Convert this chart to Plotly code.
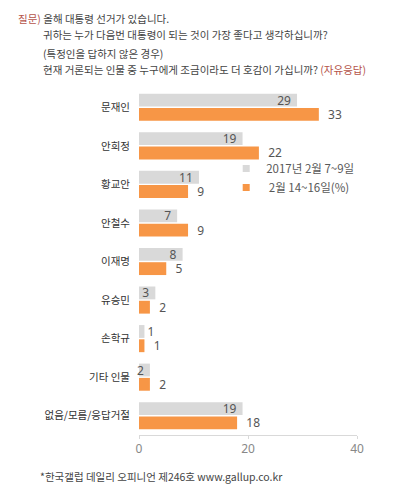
import plotly.graph_objects as go

categories = ["문재인", "안희정", "황교안", "안철수", "이재명", "유승민", "손학규", "기타 인물", "없음/모름/응답거절"]
series_names = ["2017년 2월 7~9일", " 2월 14~16일(%)"]
values_feb7 = [29, 19, 11, 7, 8, 3, 1, 2, 19]
values_feb14 = [33, 22, 9, 9, 5, 2, 1, 2, 18]
x_ticks = [0, 20, 40]

FONT = "Noto Sans CJK KR"
NUMFONT = "Noto Sans"
TXT = "#555555"
GRAY = "#d9d9d9"
ORANGE = "#f79646"

fig = go.Figure()
fig.add_trace(go.Bar(
    y=categories, x=values_feb7, name=series_names[0], orientation="h",
    marker=dict(color=GRAY, line=dict(width=0)), showlegend=False,
    text=[f"{v} " for v in values_feb7], textposition="auto", textangle=0,
    insidetextanchor="end", constraintext="none",
    textfont=dict(family=NUMFONT, size=12, color=TXT),
    insidetextfont=dict(family=NUMFONT, size=12, color=TXT),
    outsidetextfont=dict(family=NUMFONT, size=12, color=TXT),
    cliponaxis=False,
))
fig.add_trace(go.Bar(
    y=categories, x=values_feb14, name=series_names[1], orientation="h",
    marker=dict(color=ORANGE, line=dict(width=0)), showlegend=False,
    text=[f"  {v}" for v in values_feb14], textposition="outside", textangle=0,
    textfont=dict(family=NUMFONT, size=12, color=TXT),
    constraintext="none",
    cliponaxis=False,
))
# legend entries with small square swatches
for name, col in zip(series_names, [GRAY, ORANGE]):
    fig.add_trace(go.Scatter(x=[None], y=[None], mode="markers", name=name,
                             marker=dict(symbol="square", size=7, color=col),
                             showlegend=True))

fig.update_layout(
    width=398, height=489,
    margin=dict(l=131, r=49, t=80, b=62),
    paper_bgcolor="white", plot_bgcolor="white",
    barmode="group", bargap=0.26, bargroupgap=0.1,
    font=dict(family=FONT, size=11, color="#444444"),
    showlegend=True,
    legend=dict(x=0.40, y=0.81, xanchor="left", yanchor="top",
                bgcolor="rgba(0,0,0,0)", font=dict(family=FONT, size=11.5, color="#595959"),
                itemwidth=30, tracegroupgap=0),
    xaxis=dict(range=[0, 40], tickvals=x_ticks, showgrid=False, zeroline=False,
               showline=True, linecolor="#d9d9d9", linewidth=1,
               ticks="outside", ticklen=3, tickcolor="#d9d9d9", automargin=False,
               tickfont=dict(family=NUMFONT, size=12, color="#888888")),
    yaxis=dict(autorange="reversed", showgrid=False, showline=False,
               ticks="", ticklabelstandoff=8, automargin=False,
               tickfont=dict(family=FONT, size=10.5, color="#333333")),
)

lines = [
    ("<span style='color:#b5544a'>질문)</span> 올해 대통령 선거가 있습니다.", 8, 10),
    ("귀하는 누가 다음번 대통령이 되는 것이 가장 좋다고 생각하십니까?", 33, 27),
    ("(특정인을 답하지 않은 경우)", 33, 45),
    ("현재 거론되는 인물 중 누구에게 조금이라도 더 호감이 가십니까? <span style='color:#b5544a'>(자유응답)</span>", 33, 62),
]
for t, x, y in lines:
    fig.add_annotation(text=t, xref="paper", yref="paper",
                       x=(x - 131) / 218, y=1 + (80 - y) / 347,
                       xanchor="left", yanchor="middle", showarrow=False,
                       font=dict(family=FONT, size=10.5, color="#444444"))

fig.add_annotation(text="*한국갤럽 데일리 오피니언 제246호 www.gallup.co.kr",
                   xref="paper", yref="paper", x=(30 - 131) / 218, y=-(468 - 427) / 347,
                   xanchor="left", yanchor="middle", showarrow=False,
                   font=dict(family=FONT, size=10.5, color="#444444"))

fig.write_html("out.html")
